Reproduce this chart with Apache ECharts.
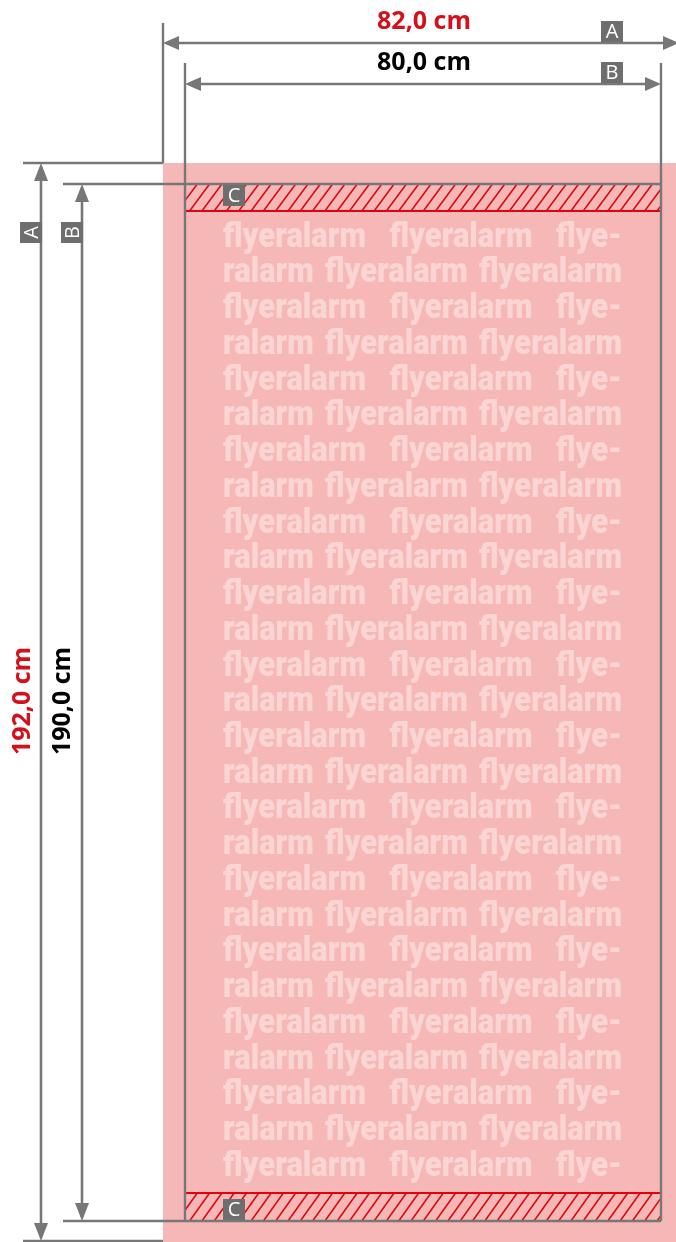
<!DOCTYPE html>
<html><head><meta charset="utf-8">
<script src="https://cdn.jsdelivr.net/npm/echarts@6/dist/echarts.min.js"></script>
<style>html,body{margin:0;padding:0;background:#fff}#c{width:676px;height:1242px}</style>
</head><body><div id="c"></div>
<script>
// ---- data ----
const widthValues = [82.0, 80.0];          // A (with bleed), B (final format)
const heightValues = [192.0, 190.0];
const dimensionLetters = ["A", "B"];
const zoneLetters = ["C", "C"];
const watermarkRowA = ["flyeralarm", "flyeralarm", "flye-"];
const watermarkRowB = ["ralarm", "flyeralarm", "flyeralarm"];
const watermarkRowCount = 27;

function fmt(v) { return v.toFixed(1).replace('.', ',') + ' cm'; }

// ---- layout (in the canvas coordinate system of the hidden axes) ----
const OUT = { x0: 163, x1: 676, y0: 163, y1: 1241 };
const IN = { x0: 185, x1: 661, y0: 184, y1: 1221 };
const HDIM = [ { y: 43, x0: OUT.x0, x1: 679, labelY: 22, boxY0: 21 },
               { y: 84, x0: IN.x0, x1: IN.x1, labelY: 63, boxY0: 62 } ];
const VDIM = [ { x: 41, y0: OUT.y0, y1: OUT.y1, labelX: 23, boxX0: 20 },
               { x: 82, y0: IN.y0, y1: IN.y1, labelX: 63, boxX0: 61 } ];
const STRIPS = [ { y0: IN.y0, y1: 211, red: 211 }, { y0: 1193, y1: IN.y1, red: 1193 } ];
const WM = { x0: 223, x1: 622, y0: 238, pitch: 35.73, wordWidth: 143 };

const GRAY = '#777777', BOXGRAY = '#6e6e6e', RED = '#e3000f', LABELRED = '#d6101a';
const PINK = '#f6b8b6', WMCOL = '#fad5d3';
const LABEL_FONT = 'bold 25px "Open Sans", sans-serif';
const BOX_FONT = '20px "Open Sans", sans-serif';
const WM_FONT = '900 35px Roboto, sans-serif';

const measureCtx = document.createElement('canvas').getContext('2d');
function textW(t, font) { measureCtx.font = font; return measureCtx.measureText(t).width; }
const WM_SCALE = WM.wordWidth / textW('flyeralarm', WM_FONT);

function P(api, x, y) { return api.coord([x, y]); }
function seg(api, a, b, color, w) {
  const p = P(api, a[0], a[1]), q = P(api, b[0], b[1]);
  return { type: 'line', shape: { x1: p[0], y1: p[1], x2: q[0], y2: q[1] }, style: { stroke: color, lineWidth: w } };
}
function poly(api, pts, color) {
  return { type: 'polygon', shape: { points: pts.map(pt => P(api, pt[0], pt[1])) }, style: { fill: color } };
}
function box(api, x0, y0, letter, rot) {
  const p = P(api, x0, y0), q = P(api, x0 + 22, y0 + 21);
  return { type: 'group', children: [
    { type: 'rect', shape: { x: p[0], y: p[1], width: q[0] - p[0], height: q[1] - p[1] }, style: { fill: BOXGRAY } },
    { type: 'text', x: (p[0] + q[0]) / 2 + (rot ? 1 : 0), y: (p[1] + q[1]) / 2 + (rot ? 0 : 1), rotation: rot ? Math.PI / 2 : 0,
      style: { text: letter, fill: '#ffffff', font: BOX_FONT, align: 'center', verticalAlign: 'middle' } }
  ] };
}

const chart = echarts.init(document.getElementById('c'), null, { renderer: 'canvas' });
const custom = (name, data, render, z) => ({ type: 'custom', name, data, renderItem: render, z, silent: true, animation: false });

chart.setOption({
  animation: false,
  grid: { left: 0, right: 0, top: 0, bottom: 0 },
  xAxis: { type: 'value', min: 0, max: 676, show: false },
  yAxis: { type: 'value', min: 0, max: 1242, inverse: true, show: false },
  series: [
    custom('sheet', [[0]], (params, api) => {
      const p = P(api, OUT.x0, OUT.y0), q = P(api, OUT.x1, 1242);
      return { type: 'rect', shape: { x: p[0], y: p[1], width: q[0] - p[0], height: q[1] - p[1] }, style: { fill: PINK } };
    }, 1),
    custom('watermark', Array.from({ length: watermarkRowCount }, (_, i) => [i]), (params, api) => {
      const i = api.value(0);
      const words = i % 2 === 0 ? watermarkRowA : watermarkRowB;
      const widths = words.map(w => textW(w, WM_FONT) * WM_SCALE);
      const gap = (WM.x1 - WM.x0 - widths.reduce((a, b) => a + b, 0)) / (words.length - 1);
      let cx = WM.x0;
      const y = WM.y0 + i * WM.pitch;
      const children = words.map((w, k) => {
        const p = P(api, cx, y);
        cx += widths[k] + gap;
        return { type: 'text', x: p[0], y: p[1], scaleX: WM_SCALE, style: { text: w, fill: WMCOL, font: WM_FONT, align: 'left', verticalAlign: 'middle' } };
      });
      return { type: 'group', children };
    }, 2),
    custom('bleed zones', zoneLetters.map((c, i) => [i]), (params, api) => {
      const s = STRIPS[api.value(0)];
      const children = [];
      const h = s.y1 - s.y0, dx = 20, step = 12.3;
      for (let xb = IN.x0 - dx; xb < IN.x1 + 1; xb += step) {
        let ax = xb, ay = s.y1, bx = xb + dx, by = s.y0;
        if (ax < IN.x0) { const t = (IN.x0 - ax) / dx; ax = IN.x0; ay = s.y1 - t * h; }
        if (bx > IN.x1) { const t = (bx - IN.x1) / dx; bx = IN.x1; by = s.y0 + t * h; }
        if (bx > ax) children.push(seg(api, [ax, ay], [bx, by], RED, 1.5));
      }
      children.push(seg(api, [IN.x0, s.red], [IN.x1, s.red], RED, 2.2));
      return { type: 'group', children };
    }, 3),
    custom('outlines', [[0]], (params, api) => {
      const ext = [
        [[OUT.x0, 23], [OUT.x0, OUT.y0]], [[23, OUT.y0], [OUT.x0, OUT.y0]],
        [[IN.x0, 63], [IN.x0, IN.y1]], [[IN.x1, 63], [IN.x1, IN.y1]],
        [[63, IN.y0], [IN.x1, IN.y0]], [[63, IN.y1], [IN.x1, IN.y1]],
        [[23, OUT.y1], [OUT.x0, OUT.y1]]
      ];
      return { type: 'group', children: ext.map(e => seg(api, e[0], e[1], GRAY, 2.4)) };
    }, 4),
    custom('zone letters', zoneLetters.map((c, i) => [i]), (params, api) => {
      const i = api.value(0);
      const y0 = i === 0 ? IN.y0 + 1 : IN.y1 - 22;
      return box(api, 223, y0, zoneLetters[i], false);
    }, 5),
    custom('widths', widthValues.map((v, i) => [i, v]), (params, api) => {
      const i = api.value(0), d = HDIM[i];
      const lab = P(api, 424, d.labelY);
      return { type: 'group', children: [
        seg(api, [d.x0 + 4, d.y], [d.x1 - 4, d.y], GRAY, 2.6),
        poly(api, [[d.x0, d.y], [d.x0 + 16, d.y - 7], [d.x0 + 16, d.y + 7]], GRAY),
        poly(api, [[d.x1, d.y], [d.x1 - 16, d.y - 7], [d.x1 - 16, d.y + 7]], GRAY),
        { type: 'text', x: lab[0], y: lab[1], style: { text: fmt(api.value(1)), fill: i === 0 ? LABELRED : '#000000', font: LABEL_FONT, align: 'center', verticalAlign: 'middle' } },
        box(api, 601, d.boxY0, dimensionLetters[i], false)
      ] };
    }, 6),
    custom('heights', heightValues.map((v, i) => [i, v]), (params, api) => {
      const i = api.value(0), d = VDIM[i];
      const lab = P(api, d.labelX, 701);
      return { type: 'group', children: [
        seg(api, [d.x, d.y0 + 4], [d.x, d.y1 - 4], GRAY, 2.6),
        poly(api, [[d.x, d.y0], [d.x - 7, d.y0 + 18], [d.x + 7, d.y0 + 18]], GRAY),
        poly(api, [[d.x, d.y1], [d.x - 7, d.y1 - 18], [d.x + 7, d.y1 - 18]], GRAY),
        { type: 'text', x: lab[0], y: lab[1], rotation: Math.PI / 2, style: { text: fmt(api.value(1)), fill: i === 0 ? LABELRED : '#000000', font: LABEL_FONT, align: 'center', verticalAlign: 'middle' } },
        box(api, d.boxX0, 222, dimensionLetters[i], true)
      ] };
    }, 6)
  ]
});
</script></body></html>
